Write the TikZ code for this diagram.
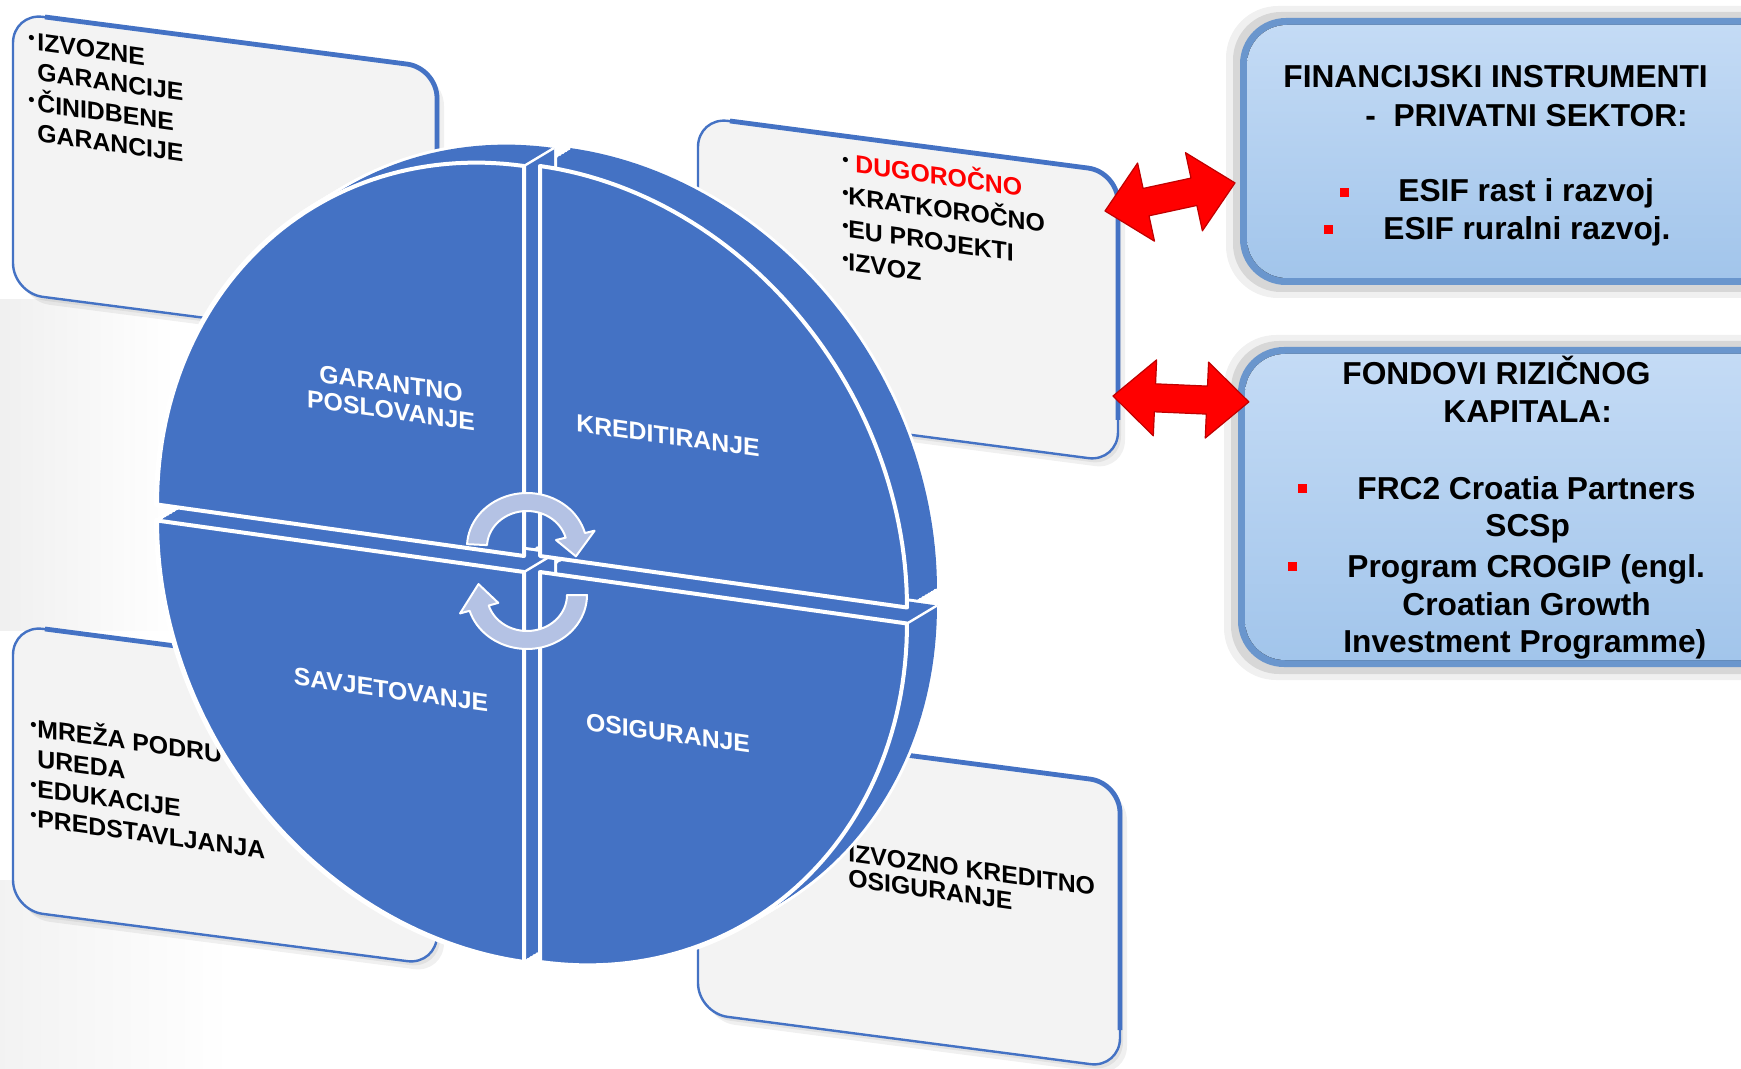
\documentclass[tikz,border=0pt]{standalone}
\usepackage{fontspec}
\setmainfont{Liberation Sans}
\definecolor{pieblue}{HTML}{4472C4}
\definecolor{cardfill}{HTML}{F3F3F3}
\definecolor{cardedge}{HTML}{4472C4}
\definecolor{boxedge}{HTML}{6A96CD}
\definecolor{boxtop}{HTML}{C4DBF5}
\definecolor{boxbot}{HTML}{A2C5EB}
\definecolor{arrowlav}{HTML}{B4C2E4}
\definecolor{bulred}{HTML}{FF0000}
\newcommand\pcx{532}
\newcommand\pcy{564}
\newcommand\prx{367}
\newcommand\pry{390}
\newcommand\pk{51.5}
\newcommand\dX{30}
\newcommand\dY{-18}
\newcommand\bul[1]{\makebox[#1][l]{\raisebox{2.6pt}{\fontsize{9}{9}\selectfont •}}}
\tikzset{
  quad/.style n args={4}{insert path={({\pcx+#3},{\pcy+#4}) -- plot[domain=#1:#2,samples=60,variable=\a] ({\pcx+#3+\prx*cos(\a)},{\pcy+#4+\pk*cos(\a)+\pry*sin(\a)}) -- cycle}},
  cardA/.style={insert path={(13,13) -- (437,68) -- (437,348) -- (13,293) -- cycle}},
  cardB/.style={insert path={(698,117) -- (1118,172) -- (1118,462) -- (698,407) -- cycle}},
  cardC/.style={insert path={(13,625) -- (437,680) -- (437,965) -- (13,910) -- cycle}},
  cardD/.style={insert path={(698,728) -- (1120,783) -- (1120,1068) -- (698,1013) -- cycle}},
  cardbox/.style={fill=cardfill, draw=cardedge, line width=1.2pt, rounded corners=15pt},
  cardshadow/.style={fill=black, opacity=0.06, rounded corners=15pt},
  cardrim/.style={draw=cardedge, line width=2.4pt, rounded corners=15pt},
  cardtxt/.style={inner sep=0pt, anchor=base west, yslant=-0.14},
  pietxt/.style={inner sep=0pt, text=white, align=center, yslant=-0.14,
    font=\fontsize{12.4}{13.5}\selectfont\bfseries},
  boxtxt/.style={inner sep=0pt, anchor=base west, font=\fontsize{15.85}{19}\selectfont\bfseries},
  redsq/.style={fill=bulred},
  bigarrow/.style={fill=red, draw=red!75!black, line width=0.6pt, line join=round},
  roundarrow/.style={fill=arrowlav, draw=white, line width=1pt, line join=round},
}
\begin{document}
\begin{tikzpicture}[x=0.5pt,y=-0.5pt]
\useasboundingbox (0,0) rectangle (1741,1069);
\clip (0,0) rectangle (1741,1069);
\fill[white] (0,0) rectangle (1741,1069);
% faint background shading
\fill[left color=black!6, right color=white] (0,300) rectangle (175,630);
\fill[left color=black!5, right color=white] (0,880) rectangle (230,1069);

% ---- cards ----
\fill[cardshadow, shift={(7,8)}, cardA];
\fill[cardshadow, shift={(3,4)}, cardA];
\path[cardbox, cardA];
\draw[cardrim] (45,17) -- (437,68) -- (437,300);
\fill[cardshadow, shift={(7,8)}, cardB];
\fill[cardshadow, shift={(3,4)}, cardB];
\path[cardbox, cardB];
\draw[cardrim] (730,121) -- (1118,172) -- (1118,420);
\fill[cardshadow, shift={(7,8)}, cardC];
\fill[cardshadow, shift={(3,4)}, cardC];
\path[cardbox, cardC];
\draw[cardrim] (45,629) -- (437,680) -- (437,920);
\fill[cardshadow, shift={(7,8)}, cardD];
\fill[cardshadow, shift={(3,4)}, cardD];
\path[cardbox, cardD];
\draw[cardrim] (730,732) -- (1120,783) -- (1120,1030);

% card texts
\node[cardtxt, font=\fontsize{12.4}{15}\selectfont\bfseries] (txtA) at (28,49)
 {\begin{tabular}[t]{@{}l@{}}\bul{4.5pt}IZVOZNE\\\hspace{4.5pt}GARANCIJE\\\bul{4.5pt}ČINIDBENE\\\hspace{4.5pt}GARANCIJE\end{tabular}};
\node[cardtxt, font=\fontsize{12.4}{16.5}\selectfont\bfseries] (txtB) at (842,171)
 {\begin{tabular}[t]{@{}l@{}}\bul{3pt}\hspace{3.5pt}\textcolor{red}{DUGOROČNO}\\\bul{3pt}KRATKOROČNO\\\bul{3pt}EU PROJEKTI\\\bul{3pt}IZVOZ\end{tabular}};
\node[cardtxt, font=\fontsize{12.4}{15}\selectfont\bfseries] (txtC) at (30,736)
 {\begin{tabular}[t]{@{}l@{}}\bul{3.5pt}MREŽA PODRU\\\hspace{3.5pt}UREDA\\\bul{3.5pt}EDUKACIJE\\\bul{3.5pt}PREDSTAVLJANJA\end{tabular}};
\node[cardtxt, font=\fontsize{12.4}{12.8}\selectfont\bfseries] (txtD) at (848,861)
 {\begin{tabular}[t]{@{}l@{}}IZVOZNO KREDITNO\\OSIGURANJE\end{tabular}};

% ---- pie extrusions ----
\foreach \a/\b/\ox/\oy in {270/360/8/-8, 180/270/-8/-8, 0/90/8/8, 90/180/-8/8} {
  \foreach \t in {0,1,...,10}
    \draw[white, line width=3pt, line join=round, shift={({\t*\dX/10},{\t*\dY/10})}, quad={\a}{\b}{\ox}{\oy}];
  \foreach \t in {0,1,...,10}
    \fill[pieblue, shift={({\t*\dX/10},{\t*\dY/10})}, quad={\a}{\b}{\ox}{\oy}];
  \draw[white, line width=1.2pt] ({\pcx+\ox},{\pcy+\oy}) -- ++(\dX,\dY);
  \draw[white, line width=1.2pt] ({\pcx+\ox+\prx*cos(\a)},{\pcy+\oy+\pk*cos(\a)+\pry*sin(\a)}) -- ++(\dX,\dY);
  \draw[white, line width=1.2pt] ({\pcx+\ox+\prx*cos(\b)},{\pcy+\oy+\pk*cos(\b)+\pry*sin(\b)}) -- ++(\dX,\dY);
}
% ---- pie front faces ----
\foreach \a/\b/\ox/\oy in {270/360/8/-8, 180/270/-8/-8, 0/90/8/8, 90/180/-8/8} {
  \fill[pieblue, quad={\a}{\b}{\ox}{\oy}];
  \draw[white, line width=2pt, line join=round, quad={\a}{\b}{\ox}{\oy}];
}
\node[pietxt] (garantno) at (391,397) {GARANTNO\\POSLOVANJE};
\node[pietxt] (kredit) at (668,436) {KREDITIRANJE};
\node[pietxt] (savjet) at (391,690) {SAVJETOVANJE};
\node[pietxt] (osig) at (668,733) {OSIGURANJE};

% ---- circular arrows ----
\path[roundarrow] plot[domain=183:345,samples=40,variable=\a] ({527+60*cos(\a)},{547+54*sin(\a)})
  -- ({527+70*cos(345)},{547+63*sin(345)}) -- ({527+50*cos(12)},{547+45*sin(12)})
  -- ({527+30*cos(345)},{547+27*sin(345)})
  -- plot[domain=345:183,samples=40,variable=\a] ({527+40*cos(\a)},{547+36*sin(\a)}) -- cycle;
\path[roundarrow] plot[domain=0:163,samples=40,variable=\a] ({527+60*cos(\a)},{595+54*sin(\a)})
  -- ({527+70*cos(163)},{595+63*sin(163)}) -- ({527+50*cos(194)},{595+45*sin(194)})
  -- ({527+30*cos(163)},{595+27*sin(163)})
  -- plot[domain=163:0,samples=40,variable=\a] ({527+40*cos(\a)},{595+36*sin(\a)}) -- cycle;

% ---- right boxes ----
\fill[black, opacity=0.06, rounded corners=26pt] (1226,6) rectangle (1800,298);
\fill[black, opacity=0.10, rounded corners=24pt] (1233,12) rectangle (1795,292);
\fill[boxedge, rounded corners=23pt] (1240,18) rectangle (1790,285);
\fill[top color=boxtop, bottom color=boxbot, rounded corners=20pt] (1247,25) rectangle (1783,278);
\node[boxtxt] (b1a) at (1283,88) {FINANCIJSKI INSTRUMENTI};
\node[boxtxt] (b1b) at (1365,127) {-\ \ PRIVATNI SEKTOR:};
\fill[redsq] (1340,188) rectangle (1349,197);
\node[boxtxt] (b1c) at (1398,202) {ESIF rast i razvoj};
\fill[redsq] (1324,225) rectangle (1333,234);
\node[boxtxt] (b1d) at (1383,240) {ESIF ruralni razvoj.};

\fill[black, opacity=0.06, rounded corners=26pt] (1224,335) rectangle (1800,680);
\fill[black, opacity=0.10, rounded corners=24pt] (1231,341) rectangle (1795,674);
\fill[boxedge, rounded corners=23pt] (1238,347) rectangle (1790,667);
\fill[top color=boxtop, bottom color=boxbot, rounded corners=20pt] (1245,354) rectangle (1783,660);
\node[boxtxt] (b2a) at (1342,385) {FONDOVI RIZIČNOG};
\node[boxtxt] (b2b) at (1443,423) {KAPITALA:};
\fill[redsq] (1298,484) rectangle (1307,493);
\node[boxtxt] (b2c) at (1357,500) {FRC2 Croatia Partners};
\node[boxtxt] (b2d) at (1485,537) {SCSp};
\fill[redsq] (1288,562) rectangle (1297,571);
\node[boxtxt] (b2e) at (1347,577) {Program CROGIP (engl.};
\node[boxtxt] (b2f) at (1402,615) {Croatian Growth};
\node[boxtxt] (b2g) at (1343,653) {Investment Programme)};

% ---- red double arrows ----
\coordinate (a1l) at (1105,211);
\coordinate (a2l) at (1113,396);
\begin{scope}[shift={(a1l)}, rotate=12.2]
\path[bigarrow] (0,0) -- (42,-40) -- (42,-14) -- (91,-14) -- (91,-40) -- (133,0)
  -- (91,40) -- (91,14) -- (42,14) -- (42,40) -- cycle;
\end{scope}
\begin{scope}[shift={(a2l)}, rotate=-2.5]
\path[bigarrow] (0,0) -- (42,-38) -- (42,-14) -- (94,-14) -- (94,-38) -- (136,0)
  -- (94,38) -- (94,14) -- (42,14) -- (42,38) -- cycle;
\end{scope}
\end{tikzpicture}
\end{document}
